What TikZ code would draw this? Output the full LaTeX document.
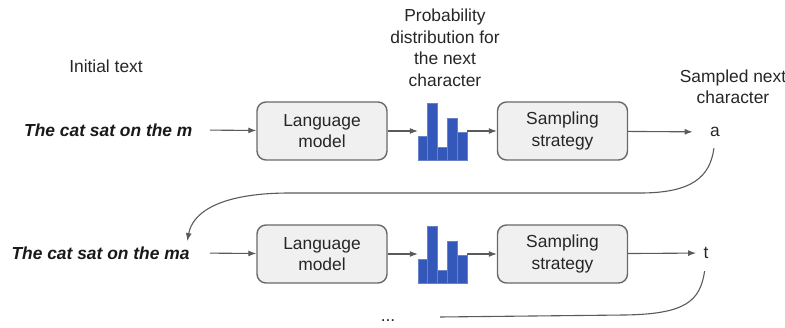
\documentclass[tikz,border=0pt]{standalone}
\usepackage{fontspec}
\setmainfont{Liberation Sans}
\usepackage{xcolor}
\usetikzlibrary{arrows.meta}

\definecolor{barblue}{RGB}{52,88,186}
\definecolor{boxfill}{RGB}{240,240,240}
\definecolor{boxline}{RGB}{105,105,105}
\definecolor{wire}{RGB}{90,90,90}

\newcommand\bodyfont{\fontsize{17.4}{21.5}\selectfont}

\tikzset{
  stage/.style={draw=boxline, line width=1.4pt, fill=boxfill, rounded corners=9pt,
    minimum width=130pt, minimum height=58pt, align=center, text=black!85},
  hist/.style={minimum width=49pt, minimum height=58pt, inner sep=0pt},
  flow/.style={draw=wire, line width=1.1pt, -{Latex[length=8pt,width=6pt]}},
  loopback/.style={draw=wire, line width=1.1pt},
  lbl/.style={align=center, text=black!85},
  seq/.style={anchor=east, font=\bodyfont\bfseries\itshape, text=black!90},
  bar/.style={fill=barblue, draw=barblue!75!white, line width=0.4pt}
}

\begin{document}
\begin{tikzpicture}[x=1pt, y=1pt, font=\bodyfont]
\useasboundingbox (0,0) rectangle (785,327);

% headings
\node[lbl] (init) at (106,261) {Initial text};
\node[lbl] (probtxt) at (445,279) {Probability\\distribution for\\the next\\character};
\node[lbl] (samptxt) at (733,240) {Sampled next\\character};

% first step
\node[seq] (txt1) at (196,197) {The cat sat on the m};
\node[stage] (lm1) at (322,196) {Language\\model};
\node[hist] (hist1) at (442.5,196) {};
\node[stage] (ss1) at (562.5,196) {Sampling\\strategy};
\node[lbl] (chr1) at (715,195) {a};

\begin{scope}[shift={(hist1.south west)}]
\foreach \h [count=\i from 0] in {24,57,13,42,28}
  \filldraw[bar] (\i*9.8,0) rectangle ++(9.8,\h);
\end{scope}

\draw[flow, shorten <=14pt] (txt1.east) -- (lm1);
\draw[flow] (lm1) -- (hist1);
\draw[flow] (hist1) -- (ss1);
\draw[flow, shorten >=14pt] (ss1) -- (chr1);

% second step
\node[seq] (txt2) at (193,74) {The cat sat on the ma};
\node[stage] (lm2) at (322,73) {Language\\model};
\node[hist] (hist2) at (442.5,73) {};
\node[stage] (ss2) at (562.5,73) {Sampling\\strategy};
\node[lbl] (chr2) at (706,74) {t};

\begin{scope}[shift={(hist2.south west)}]
\foreach \h [count=\i from 0] in {24,57,13,42,28}
  \filldraw[bar] (\i*9.8,0) rectangle ++(9.8,\h);
\end{scope}

\draw[flow, shorten <=17pt] (txt2.east) -- (lm2);
\draw[flow] (lm2) -- (hist2);
\draw[flow] (hist2) -- (ss2);
\draw[flow, shorten >=4pt] (ss2) -- (chr2);

% feed the sampled character back in
\draw[flow, shorten <=8pt, shorten >=2pt] (chr1.south)
  .. controls (710,150) and (692,134) .. (640,134) -- (290,134)
  .. controls (215,134) and (192,112) .. ([xshift=-6pt]txt2.north east);

\coordinate (next) at (440,10);
\draw[loopback, shorten <=9pt] (chr2.south)
  .. controls (700,26) and (686,13) .. (625,12) -- (next);
\node[lbl] (dots) at (388,6) {...};
\end{tikzpicture}
\end{document}
